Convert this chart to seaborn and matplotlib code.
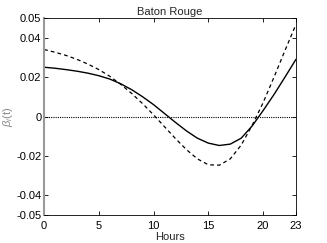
import matplotlib
matplotlib.use("Agg")
import matplotlib.pyplot as plt
import seaborn as sns
import pandas as pd

hours = list(range(24))
solid = [0.0250, 0.0245, 0.0238, 0.0230, 0.0220, 0.0207, 0.0190, 0.0166, 0.0136, 0.0100,
         0.0060, 0.0015, -0.0030, -0.0073, -0.0110, -0.0135, -0.0147, -0.0140, -0.0110,
         -0.0048, 0.0030, 0.0112, 0.0200, 0.0290]
dashed = [0.0340, 0.0326, 0.0310, 0.0290, 0.0266, 0.0238, 0.0204, 0.0163, 0.0117, 0.0065,
          0.0008, -0.0052, -0.0112, -0.0168, -0.0215, -0.0245, -0.0247, -0.0215, -0.0145,
          -0.0045, 0.0070, 0.0200, 0.0335, 0.0467]
xticks = [0, 5, 10, 15, 20, 23]
yticks = [-0.05, -0.04, -0.02, 0, 0.02, 0.04, 0.05]
ytick_labels = ["-0.05", "-0.04", "-0.02", "0", "0.02", "0.04", "0.05"]

sns.set_style("white")
plt.rcParams['font.family'] = ['Liberation Sans', 'DejaVu Sans']
plt.rcParams['mathtext.fontset'] = 'custom'
plt.rcParams['mathtext.it'] = 'Liberation Sans:italic'
plt.rcParams['mathtext.rm'] = 'Liberation Sans'

df = pd.DataFrame({"Hours": hours, "solid": solid, "dashed": dashed})

fig = plt.figure(figsize=(3.27, 2.43), dpi=100)
ax = fig.add_axes([0.135, 0.115, 0.77, 0.811])

sns.lineplot(data=df, x="Hours", y="solid", ax=ax, color="black", lw=1.0)
sns.lineplot(data=df, x="Hours", y="dashed", ax=ax, color="black", lw=0.9, linestyle=(0, (3, 2.5)))
ax.axhline(0, color="black", lw=0.8, linestyle=(0, (1, 1)))

ax.set_xlim(0, 23)
ax.set_ylim(-0.05, 0.05)
ax.set_xticks(xticks)
ax.set_xticklabels([str(t) for t in xticks])
ax.set_yticks(yticks)
ax.set_yticklabels(ytick_labels)
ax.tick_params(direction="in", length=3, width=0.6, labelsize=8, top=True, right=True,
               bottom=True, left=True, pad=2, colors="black")
ax.tick_params(axis="x", pad=4)
for s in ["top", "right", "bottom"]:
    ax.spines[s].set_color("black")
    ax.spines[s].set_linewidth(0.6)
ax.spines["left"].set_color("#999999")
ax.spines["left"].set_linewidth(1.5)

ax.set_xlabel("Hours", fontsize=8, labelpad=1)
ax.set_ylabel(r"$\beta_i$(t)", fontsize=8, color="#888888")
ax.yaxis.set_label_coords(-0.115, 0.5)
ax.set_title("Baton Rouge", fontsize=8, pad=2)

fig.savefig("out.png", dpi=100)
